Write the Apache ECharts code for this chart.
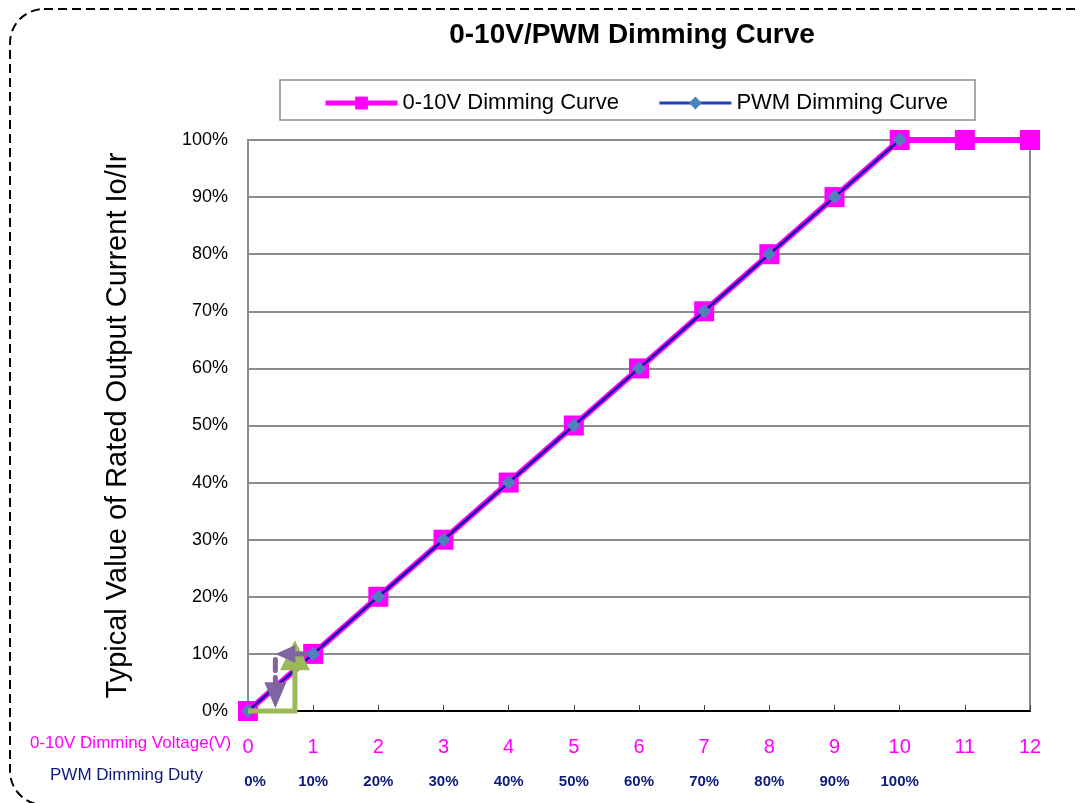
<!DOCTYPE html>
<html><head><meta charset="utf-8">
<script src="https://cdn.jsdelivr.net/npm/echarts@6/dist/echarts.min.js"></script>
<style>html,body{margin:0;padding:0;background:#fff}#c{width:1080px;height:803px}</style>
</head><body><div id="c"></div>
<script>
const voltageTicks = [0,1,2,3,4,5,6,7,8,9,10,11,12];
const dutyLabels = ['0%','10%','20%','30%','40%','50%','60%','70%','80%','90%','100%'];
const dimming010V = [0,10,20,30,40,50,60,70,80,90,100,100,100];
const dimmingPWM = [0,10,20,30,40,50,60,70,80,90,100];
const yTicks = [0,10,20,30,40,50,60,70,80,90,100];
// annotation arrows (data units: voltage, %)
const greenArrow = [[0,0],[0.72,0],[0.72,12.4]];
const purpleArrowH = [[0.92,10],[0.42,10]];
const purpleArrowV = [[0.42,9.0],[0.42,0.5]];
const arrows = [
  {pts:greenArrow, color:'#9bbb59', dash:null, head:[30,30]},
  {pts:purpleArrowH, color:'#8064a2', dash:null, head:[18,20]},
  {pts:purpleArrowV, color:'#8064a2', dash:[11,7], head:[22,26]}
];

const FONT = '"Liberation Sans",Arial,sans-serif';
const chart = echarts.init(document.getElementById('c'), null, {renderer:'canvas'});
chart.setOption({
  animation:false,
  backgroundColor:'#fff',
  textStyle:{fontFamily:FONT},
  title:{text:'0-10V/PWM Dimming Curve', left:627, textAlign:'center', top:16,
    textStyle:{fontSize:28, fontWeight:'bold', color:'#000', fontFamily:FONT}},
  legend:{left:318, top:87, itemWidth:72, itemHeight:16, itemGap:39,
    textStyle:{fontSize:22, color:'#000', fontFamily:FONT},
    data:[{name:'0-10V Dimming Curve', lineStyle:{width:5}},
          {name:'PWM Dimming Curve', lineStyle:{width:3, color:'#1f3fc0'}}]},
  grid:{left:248, right:50, top:140, bottom:92, show:true, borderColor:'#8c8c8c', borderWidth:2},
  xAxis:[{
    type:'value', min:0, max:12, interval:1, position:'bottom',
    axisLine:{lineStyle:{color:'#000', width:2}},
    axisTick:{inside:true, length:6, lineStyle:{color:'#444'}},
    splitLine:{show:false},
    axisLabel:{color:'#ff00ff', fontSize:20, margin:26, fontFamily:FONT,
      formatter:v=>String(voltageTicks[v])}
  },{
    type:'value', min:0, max:12, interval:1, position:'bottom',
    axisLine:{show:false}, axisTick:{show:false}, splitLine:{show:false},
    axisLabel:{color:'#0d1a7a', fontSize:15, fontWeight:'bold', margin:63, fontFamily:FONT,
      formatter:v=> v===0 ? '{z|'+dutyLabels[0]+'}' : (dutyLabels[v]||''),
      rich:{z:{color:'#0d1a7a', fontSize:15, fontWeight:'bold', padding:[0,0,0,14], fontFamily:FONT}}}
  }],
  yAxis:{type:'value', min:0, max:100, interval:10,
    name:'Typical Value of Rated Output Current Io/Ir', nameLocation:'middle', nameGap:116, nameRotate:90,
    nameTextStyle:{fontSize:29, color:'#000', fontFamily:FONT},
    axisLine:{show:true, lineStyle:{color:'#8c8c8c', width:2}},
    axisTick:{show:false},
    splitLine:{lineStyle:{color:'#8c8c8c', width:2}},
    axisLabel:{color:'#000', fontSize:18, margin:20, fontFamily:FONT,
      formatter:v=>yTicks[v/10]+'%'}
  },
  graphic:[
    {type:'rect', shape:{x:10, y:9, width:1200, height:796, r:34},
      style:{fill:'none', stroke:'#000', lineWidth:2, lineDash:[9,5]}, z:-1},
    {type:'rect', shape:{x:280, y:80, width:695, height:40},
      style:{fill:'#fff', stroke:'#8c8c8c', lineWidth:1.5}, z:-1},
    {type:'text', left:30, top:735, style:{text:'0-10V Dimming Voltage(V)', fill:'#ff00ff', fontSize:17, fontFamily:FONT}},
    {type:'text', left:50, top:767, style:{text:'PWM Dimming Duty', fill:'#0d1a7a', fontSize:17, fontFamily:FONT}}
  ],
  series:[
    {name:'0-10V Dimming Curve', type:'line', data:voltageTicks.map((v,i)=>[v,dimming010V[i]]),
      lineStyle:{color:'#ff00ff', width:6}, itemStyle:{color:'#ff00ff'},
      symbol:'rect', symbolSize:20, z:2},
    {name:'PWM Dimming Curve', type:'line', data:dimmingPWM.map((v,i)=>[i,v]),
      lineStyle:{color:'#0a1aa0', width:2.5}, itemStyle:{color:'#4f81bd'},
      symbol:'diamond', symbolSize:14, z:3},
    {type:'custom', z:5, silent:true, data:arrows.map((a,i)=>[i]),
      renderItem:(params, api)=>{
        const a = arrows[api.value(0)];
        const p = a.pts.map(pt=>api.coord(pt));
        const n = p.length;
        const [x1,y1] = p[n-2], [x2,y2] = p[n-1];
        const len = Math.hypot(x2-x1,y2-y1);
        const ux=(x2-x1)/len, uy=(y2-y1)/len;
        const hw=a.head[0]/2, hl=a.head[1];
        const bx=x2-ux*hl, by=y2-uy*hl;
        const line = p.slice(0,n-1).concat([[bx+ux*2,by+uy*2]]);
        return {type:'group', children:[
          {type:'polyline', shape:{points:line},
            style:{stroke:a.color, lineWidth:5, fill:null, lineDash:a.dash, lineCap: a.dash?'round':'butt'}},
          {type:'polygon', shape:{points:[[x2,y2],[bx-uy*hw,by+ux*hw],[bx+uy*hw,by-ux*hw]]},
            style:{fill:a.color}}
        ]};
      }}
  ]
});
</script></body></html>
